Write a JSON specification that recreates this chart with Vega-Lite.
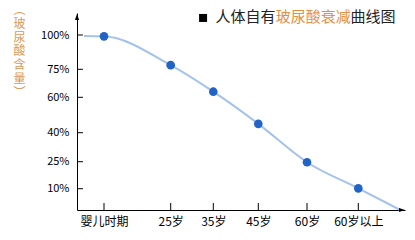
{
  "$schema": "https://vega.github.io/schema/vega-lite/v6.json",
  "width": 328,
  "height": 197,
  "autosize": {"type": "none"},
  "padding": {"left": 77, "top": 13, "right": 10, "bottom": 30},
  "background": "white",
  "config": {
    "view": {"stroke": null},
    "font": "Noto Sans CJK SC",
    "axis": {"grid": false, "domainColor": "#000000", "labelColor": "#000000", "labelOverlap": false, "labelBound": false, "labelFlush": false, "ticks": false}
  },
  "datasets": {
    "curve": [
      {"stage": null, "i": 0.26, "pct": 99.3, "dot": false},
      {"stage": "婴儿时期", "i": 1, "pct": 99, "dot": true},
      {"stage": "25岁", "i": 2, "pct": 78, "dot": true},
      {"stage": "35岁", "i": 3, "pct": 63, "dot": true},
      {"stage": "45岁", "i": 4, "pct": 45, "dot": true},
      {"stage": "60岁", "i": 5, "pct": 24.7, "dot": true},
      {"stage": "60岁以上", "i": 6, "pct": 10.2, "dot": true},
      {"stage": null, "i": 6.9, "pct": 0, "dot": false}
    ],
    "yticks": [{"v": 10}, {"v": 25}, {"v": 40}, {"v": 60}, {"v": 75}, {"v": 100}],
    "xticks": [{"v": 1}, {"v": 2}, {"v": 3}, {"v": 4}, {"v": 5}, {"v": 6}]
  },
  "layer": [
    {
      "data": {"name": "curve"},
      "mark": {"type": "line", "interpolate": "monotone", "color": "#a4c2ec", "strokeWidth": 2},
      "encoding": {
        "x": {
          "field": "i", "type": "quantitative",
          "scale": {"domain": [0, 1, 2, 3, 4, 5, 6, 7], "range": [0, 27, 93.7, 136.3, 181.3, 230, 281.3, 328], "nice": false, "zero": false},
          "axis": {
            "title": null, "values": [1, 2, 3, 4, 5, 6], "tickCount": 20,
            "labelExpr": "['','婴儿时期','25岁','35岁','45岁','60岁','60岁以上'][datum.value]",
            "labelOverlap": false, "ticks": false, "labelPadding": 6, "labelFontSize": 12, "labelBaseline": "top"
          }
        },
        "y": {
          "field": "pct", "type": "quantitative",
          "scale": {"domain": [0, 10, 25, 40, 60, 75, 100, 116], "range": [197, 175.7, 148.7, 119.7, 84.3, 56.3, 22, 0], "nice": false, "zero": false},
          "axis": {
            "title": null, "values": [10, 25, 40, 60, 75, 100], "tickCount": 20, "labelExpr": "datum.value + '%'",
            "labelOverlap": false, "ticks": false, "labelPadding": 8, "labelFontSize": 11
          }
        }
      }
    },
    {
      "data": {"name": "yticks"},
      "mark": {"type": "tick", "orient": "horizontal", "color": "#000000", "opacity": 1, "size": 6, "thickness": 1},
      "encoding": {
        "y": {"field": "v", "type": "quantitative"},
        "x": {"datum": 0.11, "type": "quantitative"}
      }
    },
    {
      "data": {"name": "xticks"},
      "mark": {"type": "tick", "orient": "vertical", "color": "#000000", "opacity": 1, "size": 7, "thickness": 1},
      "encoding": {
        "x": {"field": "v", "type": "quantitative"},
        "y": {"datum": 1.64, "type": "quantitative"}
      }
    },
    {
      "data": {"name": "curve"},
      "transform": [{"filter": "datum.dot"}],
      "mark": {"type": "point", "filled": true, "color": "#2264c6", "opacity": 1, "size": 75},
      "encoding": {
        "x": {"field": "i", "type": "quantitative"},
        "y": {"field": "pct", "type": "quantitative"}
      }
    },
    {
      "data": {"values": [{}]},
      "mark": {"type": "point", "filled": true, "color": "#000000", "opacity": 1, "size": 36, "shape": "M0,-1L-0.7,1L0.7,1Z"},
      "encoding": {"x": {"datum": 0, "type": "quantitative"}, "y": {"datum": 113.1, "type": "quantitative"}}
    },
    {
      "data": {"values": [{}]},
      "mark": {"type": "point", "filled": true, "color": "#000000", "opacity": 1, "size": 36, "shape": "M1,0L-1,-0.7L-1,0.7Z"},
      "encoding": {"x": {"datum": 6.936, "type": "quantitative"}, "y": {"datum": 0, "type": "quantitative"}}
    },
    {
      "data": {"values": [{}]},
      "mark": {"type": "point", "filled": true, "color": "#000000", "opacity": 1, "size": 64, "shape": "square"},
      "encoding": {"x": {"datum": 2.76, "type": "quantitative"}, "y": {"datum": 112.4, "type": "quantitative"}}
    },
    {
      "data": {"values": [{}]},
      "mark": {"type": "text", "text": "人体自有", "align": "left", "baseline": "middle", "fontSize": 15, "color": "#222222"},
      "encoding": {"x": {"datum": 3.05, "type": "quantitative"}, "y": {"datum": 112.8, "type": "quantitative"}}
    },
    {
      "data": {"values": [{}]},
      "mark": {"type": "text", "text": "玻尿酸衰减", "align": "left", "baseline": "middle", "fontSize": 15, "color": "#e39046"},
      "encoding": {"x": {"datum": 4.357, "type": "quantitative"}, "y": {"datum": 112.8, "type": "quantitative"}}
    },
    {
      "data": {"values": [{}]},
      "mark": {"type": "text", "text": "曲线图", "align": "left", "baseline": "middle", "fontSize": 15, "color": "#222222"},
      "encoding": {"x": {"datum": 5.85, "type": "quantitative"}, "y": {"datum": 112.8, "type": "quantitative"}}
    },
    {
      "data": {"values": [{}]},
      "mark": {"type": "text", "text": ["︵", "玻", "尿", "酸", "含", "量", "︶"], "align": "center", "baseline": "top", "fontSize": 12, "lineHeight": 13.8, "color": "#d99a55"},
      "encoding": {"x": {"datum": -2.13, "type": "quantitative"}, "y": {"datum": 121.8, "type": "quantitative"}}
    }
  ]
}
